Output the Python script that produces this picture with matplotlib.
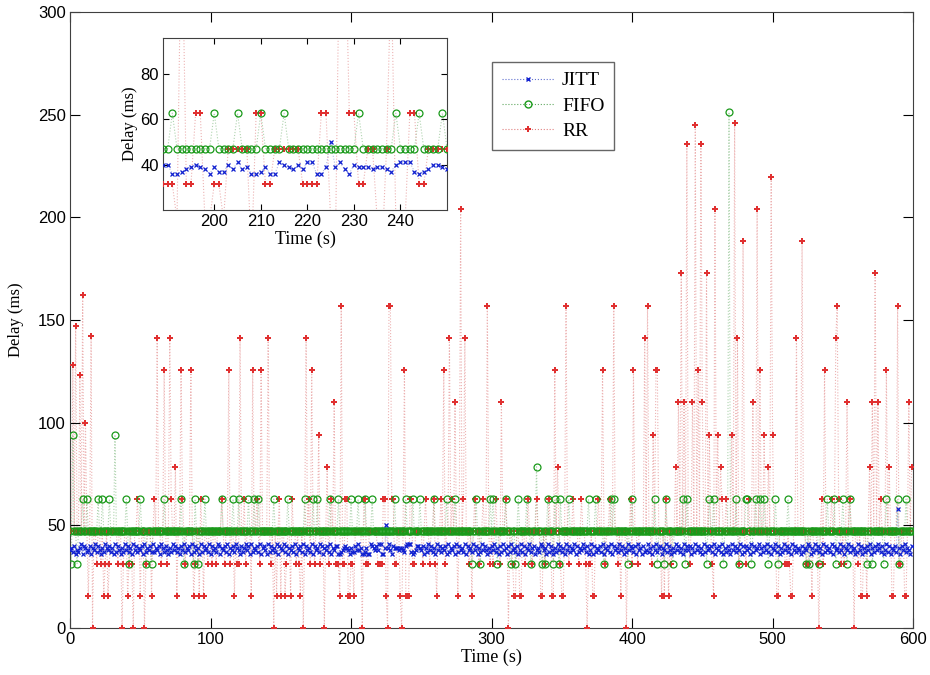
import numpy as np
import matplotlib
matplotlib.use("Agg")
import matplotlib.pyplot as plt
from matplotlib.lines import Line2D

# delays are quantised in steps of ~15.7 ms; one character per second,
# level index written in base 36 (value = level * STEP)
STEP = 15.7

rr_levels = "".join([
    # 0-59
    "338393383a", "3631390332", "3323123123", "3333233023", "3123203343", "1330233313",
    # 60-119
    "4393323832", "3943351338", "4323338312", "3314313323", "3233233343", "2338233132",
    # 120-179
    "2933423331", "8334328333", "3932303134", "1331233143", "3232130393", "4283233623",
    # 180-239
    "3035234372", "221a224411", "2213333304", "4223333332", "2224410aa4", "4223310381",
    # 240-299
    "1144223333", "3234332334", "2133438233", "93437313d3", "4933231343", "3233433a32",
    # 300-359
    "3234332733", "4303321133", "1133234332", "3343311323", "3431183532", "113a323343",
    # 360-419
    "3323433202", "2311334338", "3233433a33", "2313330334", "2833233339", "3a33263883",
    # 420-479
    "3131431323", "35373b373f", "32373g383f", "733b36321d", "3635433433", "363g39233c",
    # 480-539
    "323433733d", "383363353e", "6331133332", "2321133933", "3c33223313", "3320342833",
    # 540-599
    "334339a432", "3237343303", "3231133135", "373b373433", "383531133a", "2233113735",
])
# values that sit off the 15.7 ms grid
rr_fix_t = [2, 4, 7, 9, 11, 15, 445, 473]
rr_fix_v = [128, 147, 123, 162, 100, 142, 245, 246]

fifo_levels = "".join([
    "3263323334", "3343333333", "4334333343", "3363333333", "4323333333", "4333233323",
    "3333333433", "3333333334", "3233333324", "3233334333", "3333333343", "3333334333",
    "4333333433", "3433433333", "3333343333", "3333343333", "3333333433", "3334334333",
    "3333343333", "3433333333", "4333343333", "4333343333", "3333333333", "3433333334",
    "3333433334", "3333333334", "3333333343", "3333433333", "3333332334", "3323333334",
    "3433233333", "4333233234", "3333343323", "3353332323", "4333243324", "3333343333",
    "3333333334", "3333433333", "2333343433", "3333333233", "4333333333", "3333334323",
    "3332433332", "3333334324", "3333333333", "3332343343", "333332333g", "3333432333",
    "3443323343", "3433433233", "3343233333", "3433333333", "3333232333", "3332333334",
    "3333423333", "4332343333", "3333333233", "3233333332", "3433333334", "2333343333",
])

# JITT delay = 34 + digit (ms)
jitt_digits = "".join([
    "4536243572", "6534625473", "6425375463", "5273642537", "4635274635", "4627354637",
    "3546275364", "2537463526", "4735462736", "4527364537", "2645376254", "6372546375",
    "4263574627", "3546372564", "2736453726", "5473625463", "7254637264", "5372645376",
    "2546372546", "6223456542", "5336474522", "3522765464", "7722555742", "6555455436",
    "7773234665", "4625374635", "2746354627", "3546273645", "3726453746", "2537464253",
    "6473526374", "5263745362", "4736254735", "6245376452", "7364253746", "3527463547",
    "2635475362", "4726354637", "2546372645", "3746253746", "5362745263", "4735264735",
    "6254736425", "3746352746", "4625374635", "2736456372", "5463725364", "2746354726",
    "3645273645", "7253647362", "5473625374", "6352746354", "2635476253", "7463527364",
    "5372645374", "6254736452", "3746253647", "2536475362", "4736254637", "5264735426",
])
jitt_fix_t = [225, 589]
jitt_fix_v = [50, 58]

assert len(rr_levels) == len(fifo_levels) == len(jitt_digits) == 600

t = np.arange(600)
rr = np.array([int(c, 36) for c in rr_levels]) * STEP
rr[rr_fix_t] = rr_fix_v
fifo = np.array([int(c, 36) for c in fifo_levels]) * STEP
jitt = 34.0 + np.array([int(c) for c in jitt_digits])
jitt[jitt_fix_t] = jitt_fix_v

SERIF = "Liberation Serif"
SANS = "Liberation Sans"
C_J, C_F, C_R = "#1020d0", "#1a9a1a", "#e03030"
L_J, L_F, L_R = "#6070d0", "#60a860", "#e08080"

fig = plt.figure(figsize=(9.3, 6.75), dpi=100)


def draw(ax):
    # dotted connecting lines, faint
    ax.plot(t, jitt, ':', color=L_J, lw=0.8, alpha=0.5, zorder=1)
    ax.plot(t, fifo, ':', color=L_F, lw=0.8, alpha=0.5, zorder=1)
    ax.plot(t, rr, ':', color=L_R, lw=0.8, alpha=0.6, zorder=1)
    # markers
    ax.plot(t, rr, ls="none", marker="P", ms=5, color=C_R, mew=0, zorder=3)
    ax.plot(t, fifo, ls="none", marker="o", ms=5, mfc="none", mec=C_F,
            mew=0.9, zorder=4)
    ax.plot(t, jitt, ls="none", marker="x", ms=3, color=C_J, mew=0.9, zorder=5)


ax = fig.add_axes([0.0753, 0.0696, 0.9065, 0.9126])
draw(ax)
ax.set_xlim(0, 600)
ax.set_ylim(0, 300)
ax.set_xticks(range(0, 601, 100))
ax.set_yticks(range(0, 301, 50))
ax.tick_params(direction="in", top=True, right=True, length=7, pad=3,
               labelsize=12)
for lab in ax.get_xticklabels() + ax.get_yticklabels():
    lab.set_family(SANS)
ax.set_xlabel("Time (s)", family=SERIF, fontsize=13, labelpad=1)
ax.set_ylabel("Delay (ms)", family=SERIF, fontsize=12, labelpad=10)
for s in ax.spines.values():
    s.set_color("#404040")

handles = [
    Line2D([], [], ls=":", color=L_J, marker="x", ms=3, mec=C_J, lw=0.8),
    Line2D([], [], ls=":", color=L_F, marker="o", ms=5, mfc="none", mec=C_F, lw=0.8),
    Line2D([], [], ls=":", color=L_R, marker="P", ms=5, mec=C_R, mfc=C_R,
           mew=0, lw=0.8),
]
leg = ax.legend(handles, ["JITT", "FIFO", "RR"], loc="upper left",
                bbox_to_anchor=(0.5006, 0.9188), prop={"family": SERIF, "size": 14},
                frameon=True, fancybox=False, handlelength=2.7,
                borderpad=0.5, labelspacing=0.4, handletextpad=0.4,
                borderaxespad=0)
leg.get_frame().set_edgecolor("#404040")
leg.get_frame().set_linewidth(1.0)

# zoomed inset
ins = fig.add_axes([0.1753, 0.6889, 0.3054, 0.2548])
draw(ins)
ins.set_xlim(189, 250)
ins.set_ylim(20, 96)
ins.set_xticks([200, 210, 220, 230, 240])
ins.set_yticks([40, 60, 80])
ins.tick_params(direction="in", top=True, right=True, length=4, pad=3,
                labelsize=12)
for lab in ins.get_xticklabels() + ins.get_yticklabels():
    lab.set_family(SANS)
ins.set_xlabel("Time (s)", family=SERIF, fontsize=13, labelpad=1)
ins.set_ylabel("Delay (ms)", family=SERIF, fontsize=12, labelpad=2)
for s in ins.spines.values():
    s.set_color("#404040")

fig.savefig("out.png", dpi=100)
